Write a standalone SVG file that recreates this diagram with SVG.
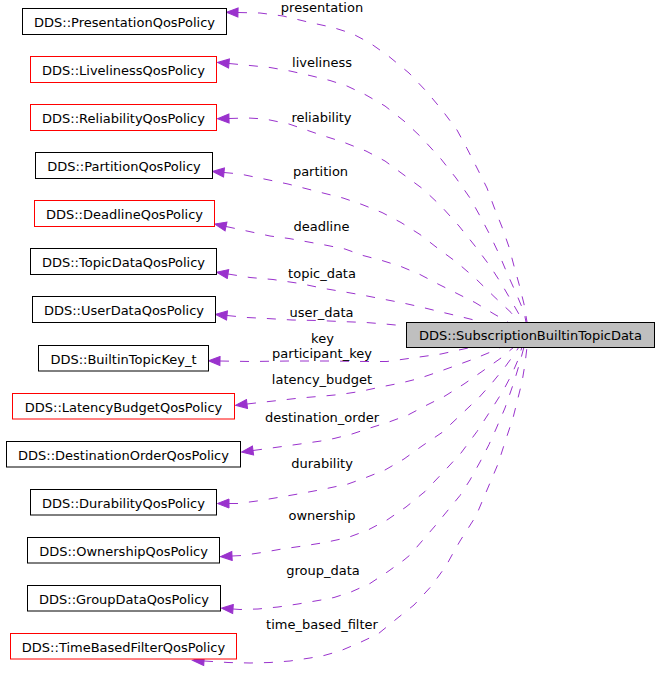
<svg xmlns="http://www.w3.org/2000/svg" width="659" height="675" viewBox="0 0 659 675">
<style>
  .box { fill:#ffffff; stroke:#000000; stroke-width:1; }
  .red { stroke:#ff0000; }
  .main { fill:#bfbfbf; }
  .t { font-family:"DejaVu Sans","Liberation Sans",sans-serif; font-size:13px; text-anchor:middle; fill:#000000; }
  .e { fill:none; stroke:#9a32cd; stroke-width:1; stroke-dasharray:9,11; marker-start:url(#ah); }
</style>
<defs>
  <marker id="ah" viewBox="-1 -1 14 11" markerWidth="14" markerHeight="11" refX="0" refY="4.5" orient="auto-start-reverse" markerUnits="userSpaceOnUse">
    <path d="M0,0 L11.5,4.5 L0,9 Z" fill="#9a32cd" stroke="#9a32cd" stroke-width="1"/>
  </marker>
</defs>
<rect width="659" height="675" fill="#ffffff"/>

<g id="connectors">
  <path class="e" d="M238,12.5 L260,13 L283,16 L310,22.5 L333,27.5 L352,33.5 L370,43 L389,56.5 L409,73 L427,92 L442,110 L457,130 L467,148.5 L477,168 L487,188 L494,207 L502,227 L509,247 L514,266 L519,284 L524,304 L527,322"/>
  <path class="e" d="M229,63.5 L250,65.5 L270,67.5 L290,71 L312,76 L330,80.5 L347,86 L366,95 L385,106 L404,121 L421,137 L441,159 L456,178 L470,198 L480,216 L490,235 L499,254 L507,273 L516,293 L524,312 L526,322"/>
  <path class="e" d="M229,118.5 L248,118 L265,119 L289,124 L318,134 L343,142 L366,151 L385,161 L404,175 L423,189 L441,206 L459,226 L475,246 L490,266 L501,283 L512,302 L520,316 L523,322"/>
  <path class="e" d="M224,172.5 L240,174 L269,180 L288,184 L325,193.5 L343,198 L362,204.5 L382,212.5 L401,222.5 L420,234.5 L438,248.5 L457,262.5 L475,278 L494,296.5 L511,312.5 L518,322"/>
  <path class="e" d="M226,226.5 L240,229.5 L270,236 L289,238.5 L325,245 L345,249 L363,255.5 L382,260.5 L401,266.5 L420,274.5 L438,284 L457,293.5 L475,302.5 L494,314 L508,322"/>
  <path class="e" d="M228,274 L250,277.5 L273,279.5 L300,283.5 L324,288.5 L342,291.5 L362,295 L385,299.5 L403,303 L421,307 L439,311.5 L458,316 L476,320.5 L481,322"/>
  <path class="e" d="M227,315.5 L247,317.5 L267,318.5 L292,320 L318,320.5 L340,321.5 L366,322.5 L385,324 L406,326"/>
  <path class="e" d="M220,361 L250,361.5 L290,361 L330,361 L365,361.5 L387,361.5 L405,359 L423,356.5 L441,354 L459,350 L473,347"/>
  <path class="e" d="M247,404 L260,402.5 L278,400.5 L300,398 L324,396 L340,394.5 L360,391.5 L383,386.5 L401,383 L419,378.5 L438,372 L456,365.5 L475,358.5 L493,351 L501,347"/>
  <path class="e" d="M253,450.5 L268,448.5 L300,444 L321,441 L334,438.5 L352,434 L370,428 L389,422 L408,415 L426,405.5 L445,396 L464,384 L482,371.5 L501,358 L514,347"/>
  <path class="e" d="M229,503.5 L238,503.5 L257,501 L278,497.5 L298,494 L322,489.5 L348,484 L366,477.5 L385,470 L404,459 L422,446 L442,432.5 L460,415.5 L479,397.5 L492,383 L505,367 L513,356 L519,347"/>
  <path class="e" d="M232,556 L242,555.5 L262,552.5 L282,549 L303,546 L325,542.5 L348,537.5 L368,530 L387,520 L406,507 L425,491.5 L443,472.5 L461,453 L477,431.5 L490,411.5 L503,391 L512,374 L518,360 L522,347"/>
  <path class="e" d="M233,609 L240,609.5 L258,609 L278,607 L298,604 L321,600 L334,597.5 L351,592 L370,583.5 L388,571.5 L404,560 L410,555 L435,526 L460,495.5 L470,480 L480,462 L489,444.5 L496,429 L505,408 L514,382 L520,362 L524,347"/>
  <path class="e" d="M204,661 L228,662.5 L250,663 L270,662.5 L290,661 L310,658 L324,655.5 L340,651 L360,642.5 L378,634 L397,618.5 L414,605 L431,586.5 L446,566 L452,555 L460,541 L476,516 L487,490 L498,464 L506,439 L513,418 L518,398 L522,382 L525,364 L527,347"/>
  <g class="t">
    <text x="322" y="12">presentation</text>
    <text x="322" y="66.5">liveliness</text>
    <text x="321.5" y="122">reliability</text>
    <text x="320.5" y="176">partition</text>
    <text x="321.5" y="230.5">deadline</text>
    <text x="322" y="278">topic_data</text>
    <text x="321.5" y="316.5">user_data</text>
    <text x="322.5" y="343">key</text>
    <text x="322" y="357.5">participant_key</text>
    <text x="322" y="384">latency_budget</text>
    <text x="322" y="421.5">destination_order</text>
    <text x="322" y="468">durability</text>
    <text x="322" y="520">ownership</text>
    <text x="323" y="574.5">group_data</text>
    <text x="322" y="628.5">time_based_filter</text>
  </g>
</g>

<g id="SubscriptionBuiltinTopicData">
  <rect class="box main" x="406.5" y="322.5" width="248" height="25"/>
  <text class="t" x="530.5" y="339.5">DDS::SubscriptionBuiltinTopicData</text>
</g>
<g id="PresentationQosPolicy">
  <rect class="box" x="22.5" y="8.5" width="204" height="26"/>
  <text class="t" x="124.5" y="26.5">DDS::PresentationQosPolicy</text>
</g>
<g id="LivelinessQosPolicy">
  <rect class="box red" x="30.5" y="56.5" width="186" height="26"/>
  <text class="t" x="123.5" y="74.5">DDS::LivelinessQosPolicy</text>
</g>
<g id="ReliabilityQosPolicy">
  <rect class="box red" x="30.5" y="104.5" width="186" height="26"/>
  <text class="t" x="123.5" y="122.5">DDS::ReliabilityQosPolicy</text>
</g>
<g id="PartitionQosPolicy">
  <rect class="box" x="35.5" y="152.5" width="177" height="26"/>
  <text class="t" x="124" y="170.5">DDS::PartitionQosPolicy</text>
</g>
<g id="DeadlineQosPolicy">
  <rect class="box red" x="34.5" y="200.5" width="180" height="26"/>
  <text class="t" x="124.5" y="218.5">DDS::DeadlineQosPolicy</text>
</g>
<g id="TopicDataQosPolicy">
  <rect class="box" x="30.5" y="248.5" width="186" height="26"/>
  <text class="t" x="123.5" y="266.5">DDS::TopicDataQosPolicy</text>
</g>
<g id="UserDataQosPolicy">
  <rect class="box" x="32.5" y="296.5" width="183" height="26"/>
  <text class="t" x="124" y="314.5">DDS::UserDataQosPolicy</text>
</g>
<g id="BuiltinTopicKey_t">
  <rect class="box" x="38.5" y="345.5" width="170" height="25.5"/>
  <text class="t" x="123.5" y="363.5">DDS::BuiltinTopicKey_t</text>
</g>
<g id="LatencyBudgetQosPolicy">
  <rect class="box red" x="12.5" y="393.5" width="222" height="25.5"/>
  <text class="t" x="123.5" y="411.5">DDS::LatencyBudgetQosPolicy</text>
</g>
<g id="DestinationOrderQosPolicy">
  <rect class="box" x="6.5" y="441.5" width="234" height="25.5"/>
  <text class="t" x="123.5" y="459.5">DDS::DestinationOrderQosPolicy</text>
</g>
<g id="DurabilityQosPolicy">
  <rect class="box" x="30.5" y="489.5" width="186" height="25.5"/>
  <text class="t" x="123.5" y="507.5">DDS::DurabilityQosPolicy</text>
</g>
<g id="OwnershipQosPolicy">
  <rect class="box" x="27.5" y="537.5" width="192" height="25.5"/>
  <text class="t" x="123.5" y="555.5">DDS::OwnershipQosPolicy</text>
</g>
<g id="GroupDataQosPolicy">
  <rect class="box" x="27.5" y="585.5" width="193" height="25.5"/>
  <text class="t" x="124" y="603.5">DDS::GroupDataQosPolicy</text>
</g>
<g id="TimeBasedFilterQosPolicy">
  <rect class="box red" x="10.5" y="633.5" width="226" height="25.5"/>
  <text class="t" x="123.5" y="651.5">DDS::TimeBasedFilterQosPolicy</text>
</g>
</svg>
